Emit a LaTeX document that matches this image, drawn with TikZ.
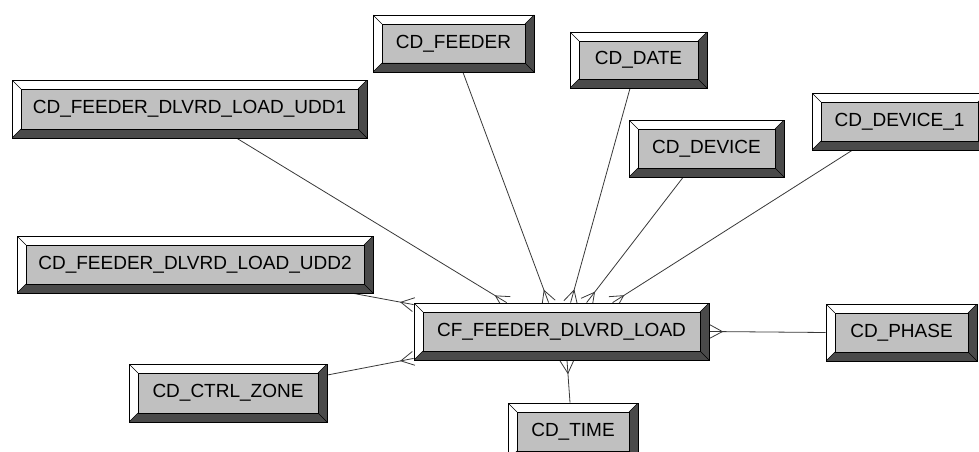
\documentclass[tikz,border=0pt]{standalone}
\usepackage{fontspec}
\setmainfont{Liberation Sans}
\usetikzlibrary{calc,backgrounds}

\definecolor{keyface}{HTML}{C0C0C0}
\definecolor{keyshade}{HTML}{4A4A4A}
\definecolor{linkgray}{HTML}{383838}

\tikzset{
	entity/.style={draw=black, line width=0.8pt, fill=keyface, minimum height=57pt, inner sep=0pt,
		font=\fontsize{19}{22}\selectfont, text=black,
		path picture={
			\coordinate (ppsw) at (path picture bounding box.south west);
			\coordinate (ppnw) at (path picture bounding box.north west);
			\coordinate (ppne) at (path picture bounding box.north east);
			\coordinate (ppse) at (path picture bounding box.south east);
			\fill[white] (ppsw) -- (ppnw) -- (ppne) -- ($(ppne)+(-9pt,-9pt)$) -- ($(ppnw)+(9pt,-9pt)$) -- ($(ppsw)+(9pt,9pt)$) -- cycle;
			\fill[keyshade] (ppsw) -- (ppse) -- (ppne) -- ($(ppne)+(-9pt,-9pt)$) -- ($(ppse)+(-9pt,9pt)$) -- ($(ppsw)+(9pt,9pt)$) -- cycle;
			\draw[line width=0.6pt] ($(ppsw)+(9pt,9pt)$) rectangle ($(ppne)+(-9pt,-9pt)$);
			\draw[line width=0.5pt] (ppnw) -- ++(9pt,-9pt) (ppne) -- ++(-9pt,-9pt) (ppsw) -- ++(9pt,9pt) (ppse) -- ++(-9pt,9pt);
		}},
	link/.style={draw=linkgray, line width=0.8pt},
}

% one end at #1, crow's foot at #2
\newcommand{\crowlink}[2]{%
	\draw[link] (#1) -- (#2);
	\draw[link] ($(#2)!7pt!90:(#1)$) -- ($(#2)!13pt!(#1)$) -- ($(#2)!7pt!-90:(#1)$);
}

\begin{document}
\begin{tikzpicture}[x=1pt,y=-1pt]
	\useasboundingbox (0,0) rectangle (979,452);
	\clip (0,0) rectangle (979,452);
	
	% Text Node
	\node[entity, minimum width=295pt] (fact) at (561.5,331.5) {CF\_FEEDER\_DLVRD\_LOAD};
	% Text Node
	\node[entity, minimum width=355pt, minimum height=58pt] (udd1) at (189.5,109) {CD\_FEEDER\_DLVRD\_LOAD\_UDD1};
	% Text Node
	\node[entity, minimum width=161pt] (feeder) at (453.5,43.5) {CD\_FEEDER};
	% Text Node
	\node[entity, minimum width=137pt, minimum height=56pt] (date) at (638.5,60) {CD\_DATE};
	% Text Node
	\node[entity, minimum width=155pt] (device) at (706.5,148.5) {CD\_DEVICE};
	% Text Node
	\node[entity, minimum width=175pt] (device1) at (899.5,121.5) {CD\_DEVICE\_1};
	% Text Node
	\node[entity, minimum width=356pt] (udd2) at (195,264.5) {CD\_FEEDER\_DLVRD\_LOAD\_UDD2};
	% Text Node
	\node[entity, minimum width=198pt, minimum height=58pt] (ctrl) at (228,393) {CD\_CTRL\_ZONE};
	% Text Node
	\node[entity, minimum width=151pt] (phase) at (901.5,332.5) {CD\_PHASE};
	% Text Node
	\node[entity, minimum width=130pt] (time) at (573,431.5) {CD\_TIME};
	
	%Connector ends
	\coordinate (udd1s) at ([xshift=47.5pt]udd1.south);
	\coordinate (feeders) at ([xshift=9.5pt]feeder.south);
	\coordinate (dates) at ([xshift=-8.5pt]date.south);
	\coordinate (devices) at ([xshift=-23.5pt]device.south);
	\coordinate (device1s) at ([xshift=-47.5pt]device1.south);
	\coordinate (udd2s) at ([xshift=-20pt]udd2.south east);
	\coordinate (ctrls) at ([yshift=18pt]ctrl.east);
	\coordinate (times) at ([xshift=-3pt]time.north);
	\coordinate (fudd1) at ([xshift=93pt]fact.north west);
	\coordinate (ffeeder) at ([xshift=135pt]fact.north west);
	\coordinate (fdate) at ([xshift=157pt]fact.north west);
	\coordinate (fdevice) at ([xshift=173pt]fact.north west);
	\coordinate (fdevice1) at ([xshift=199pt]fact.north west);
	\coordinate (fudd2) at ([yshift=-2pt]fact.north west);
	\coordinate (fctrl) at ([yshift=2pt]fact.south west);
	\coordinate (ftime) at ([xshift=5.5pt]fact.south);
	
	%Straight Lines
	\begin{scope}[on background layer]
		\crowlink{udd1s}{fudd1}
		\crowlink{feeders}{ffeeder}
		\crowlink{dates}{fdate}
		\crowlink{devices}{fdevice}
		\crowlink{device1s}{fdevice1}
		\crowlink{udd2s}{fudd2}
		\crowlink{ctrls}{fctrl}
		\crowlink{phase.west}{fact.east}
		\crowlink{times}{ftime}
	\end{scope}
	
\end{tikzpicture}
\end{document}
